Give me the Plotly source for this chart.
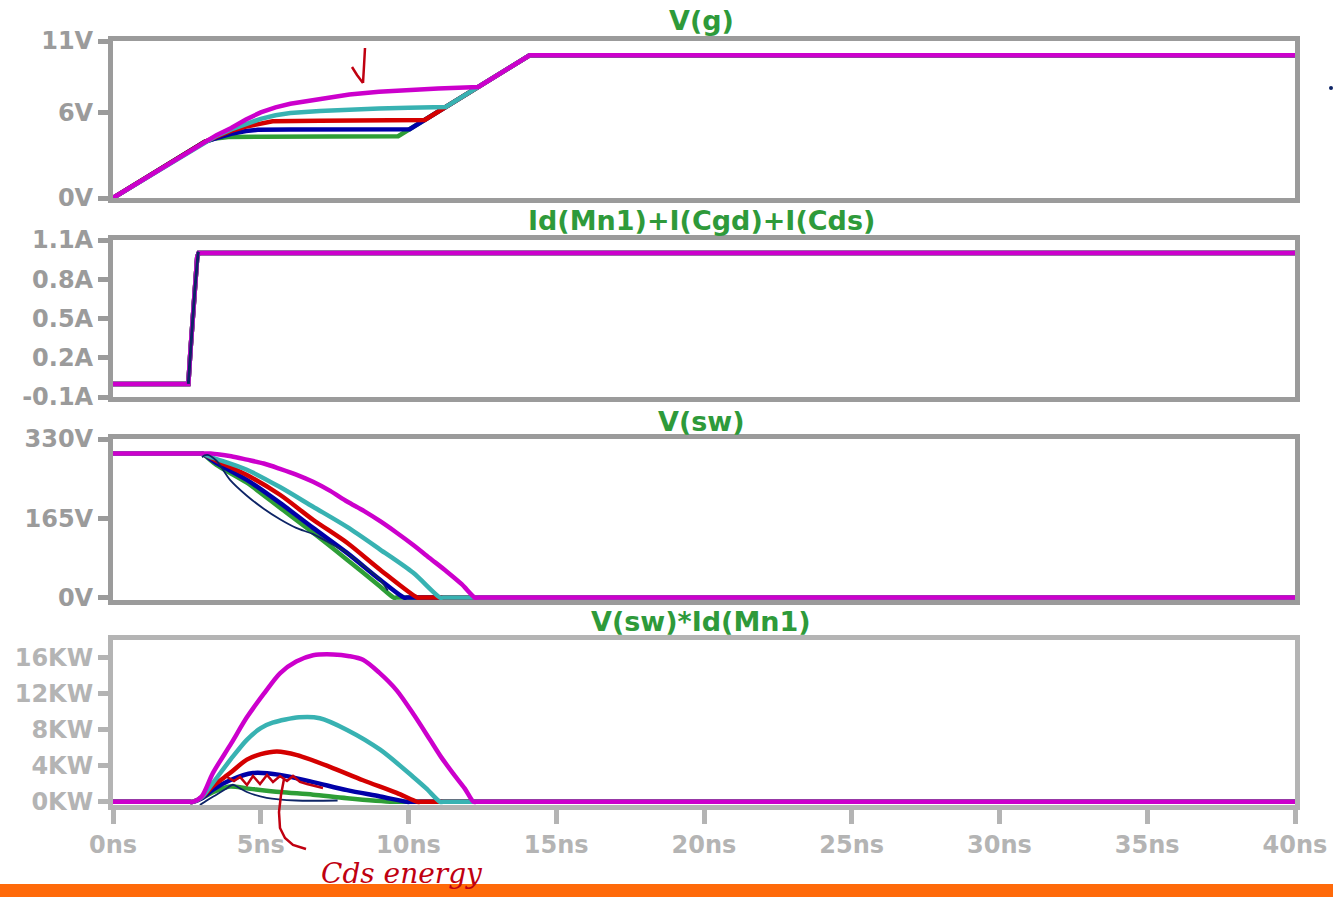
import plotly.graph_objects as go

W, H = 1333, 897

# ---------------- data ----------------
SERIES = ["green", "blue", "red", "teal", "magenta"]
COLORS = {"green": "#2e9e36", "blue": "#0000a8", "red": "#d40000",
          "teal": "#38b2b2", "magenta": "#cc00cc"}
PEN = "#0d2466"

# Panel 1: V(g)  (t in ns, volts)
VG_T = {
    "green":   [0, 3.1, 3.4, 3.9, 5.0, 7.0, 9.65, 14.1, 40],
    "blue":    [0, 3.1, 3.5, 4.0, 4.5, 4.9, 6.0, 8.0, 10.04, 14.1, 40],
    "red":     [0, 3.1, 3.5, 4.0, 4.5, 5.0, 5.4, 7.0, 9.0, 10.55, 14.1, 40],
    "teal":    [0, 3.1, 3.5, 4.0, 4.5, 5.0, 5.5, 6.0, 7.0, 8.0, 9.0, 10.0, 11.26, 14.1, 40],
    "magenta": [0, 3.1, 3.5, 4.0, 4.5, 5.0, 5.5, 6.0, 7.0, 8.0, 9.0, 10.0, 11.0, 12.36, 14.1, 40],
}
VG_V = {
    "green":   [0, 3.93, 4.15, 4.27, 4.30, 4.31, 4.33, 10, 10],
    "blue":    [0, 3.93, 4.2, 4.5, 4.7, 4.78, 4.8, 4.81, 4.82, 10, 10],
    "red":     [0, 3.93, 4.3, 4.7, 5.0, 5.25, 5.38, 5.42, 5.45, 5.47, 10, 10],
    "teal":    [0, 3.93, 4.35, 4.8, 5.2, 5.55, 5.8, 5.95, 6.1, 6.2, 6.27, 6.32, 6.38, 10, 10],
    "magenta": [0, 3.93, 4.4, 4.9, 5.5, 6.0, 6.35, 6.6, 6.95, 7.25, 7.45, 7.58, 7.68, 7.78, 10, 10],
}

# Panel 2: Id(Mn1)+I(Cgd)+I(Cds) (amps)
ID_T = [0, 2.55, 2.62, 2.70, 2.78, 2.85, 2.90, 40]
ID_A = [0, 0, 0.25, 0.55, 0.80, 0.97, 1.0, 1.0]
PEN_ID_T = [2.55, 2.62, 2.70, 2.78, 2.84, 2.88, 2.91]
PEN_ID_A = [0.0, 0.2, 0.5, 0.75, 0.92, 1.0, 1.01]

# Panel 3: V(sw) (volts)
VSW_T = {
    "green":   [0, 2.9, 3.0, 3.5, 4.53, 5.65, 6.77, 7.92, 9.04, 9.5, 9.6, 40],
    "blue":    [0, 2.9, 3.0, 3.5, 4.53, 5.65, 6.77, 7.92, 9.04, 9.85, 9.95, 40],
    "red":     [0, 2.9, 3.0, 3.5, 4.53, 5.65, 6.77, 7.92, 9.04, 10.3, 10.4, 40],
    "teal":    [0, 2.9, 3.0, 3.38, 4.53, 5.65, 6.77, 7.92, 9.04, 10.15, 11.07, 11.17, 40],
    "magenta": [0, 3.2, 3.3, 4.0, 4.53, 5.1, 5.65, 6.2, 6.77, 7.35, 7.92, 8.5, 9.04, 9.6, 10.15, 10.7, 11.3, 11.8, 12.25, 12.35, 40],
}
VSW_V = {
    "green":   [300, 300, 300, 276, 239, 187, 135, 79, 23, 0, 0, 0],
    "blue":    [300, 300, 300, 280, 245, 197, 145, 93, 37, 0, 0, 0],
    "red":     [300, 300, 300, 285, 255, 214, 162, 114, 58, 0, 0, 0],
    "teal":    [300, 300, 300, 291, 266, 230, 189, 147, 100, 52, 0, 0, 0],
    "magenta": [300, 300, 300, 294, 287, 279, 268, 256, 241, 222, 200, 180, 159, 135, 110, 83, 54, 28, 0, 0, 0],
}
PEN_VSW_T = [3.01, 3.1, 3.2, 3.5, 3.96, 4.53, 5.1, 5.65, 6.2, 6.77, 7.35, 7.92, 8.5, 9.04, 9.3]
PEN_VSW_V = [292, 296, 297, 285, 245, 212, 185, 163, 145, 132, 113, 93, 65, 37, 15]

# Panel 4: V(sw)*Id(Mn1) (kW)
P_T = {
    "green":   [0, 2.6, 2.7, 3.0, 3.4, 3.96, 4.53, 5.65, 6.77, 7.92, 9.5, 9.6, 40],
    "blue":    [0, 2.6, 2.7, 3.0, 3.4, 3.96, 4.74, 5.65, 6.77, 7.92, 9.04, 9.95, 10.05, 40],
    "red":     [0, 2.6, 2.7, 3.0, 3.4, 3.96, 4.53, 5.0, 5.55, 6.23, 7.34, 8.46, 9.6, 10.3, 10.4, 40],
    "teal":    [0, 2.6, 2.7, 3.0, 3.38, 4.0, 4.53, 5.0, 5.4, 6.3, 7.0, 7.92, 9.04, 10.15, 10.6, 11.07, 11.17, 40],
    "magenta": [0, 2.6, 2.7, 3.0, 3.38, 4.0, 4.53, 5.1, 5.65, 6.2, 6.77, 7.45, 8.0, 8.46, 9.0, 9.6, 10.2, 10.73, 11.1, 11.5, 11.9, 12.2, 12.3, 40],
}
P_KW = {
    "green":   [0, 0, 0, 0.4, 1.1, 1.7, 1.5, 1.1, 0.8, 0.4, 0, 0, 0],
    "blue":    [0, 0, 0, 0.4, 1.4, 2.4, 3.2, 3.0, 2.2, 1.3, 0.6, 0, 0, 0],
    "red":     [0, 0, 0, 0.5, 1.8, 3.2, 4.7, 5.3, 5.6, 5.2, 3.9, 2.4, 1.0, 0, 0, 0],
    "teal":    [0, 0, 0, 0.5, 2.1, 4.8, 6.9, 8.2, 8.8, 9.4, 9.3, 8.0, 5.8, 2.8, 1.5, 0, 0, 0],
    "magenta": [0, 0, 0, 0.6, 3.2, 6.5, 9.4, 12.0, 14.3, 15.6, 16.3, 16.4, 16.2, 15.8, 14.4, 12.4, 9.6, 6.9, 5.0, 3.2, 1.5, 0, 0, 0],
}
PEN_P_T = [2.94, 3.2, 3.5, 3.8, 4.06, 4.3, 4.53, 5.2, 6.2, 7.6]
PEN_P_KW = [-0.35, 0.2, 0.8, 1.4, 1.9, 1.5, 1.1, 0.45, 0.15, 0.15]

TITLES = ["V(g)", "Id(Mn1)+I(Cgd)+I(Cds)", "V(sw)", "V(sw)*Id(Mn1)"]
X_TICKS = [0, 5, 10, 15, 20, 25, 30, 35, 40]
X_TICKTEXT = ["0ns", "5ns", "10ns", "15ns", "20ns", "25ns", "30ns", "35ns", "40ns"]
Y_TICKS = [[0, 6, 11], [-0.1, 0.2, 0.5, 0.8, 1.1], [0, 165, 330], [0, 4, 8, 12, 16]]
Y_TICKTEXT = [["0V", "6V", "11V"], ["-0.1A", "0.2A", "0.5A", "0.8A", "1.1A"],
              ["0V", "165V", "330V"], ["0KW", "4KW", "8KW", "12KW", "16KW"]]

# ---------------- layout geometry (pixels) ----------------
X_LEFT, X_RIGHT = 113, 1295
PANELS = [  # (top px, bottom px, y range)
    (41, 198, [0, 11]),
    (240, 397, [-0.1, 1.1]),
    (439, 600, [-5, 330]),
    (640, 805, [-0.35, 18.0]),
]
TITLE_Y = [20, 221, 421, 621]


def px(x):
    return x / W


def py(y):
    return 1 - y / H


fig = go.Figure()


def add(k, t, v, color, width, shape="linear"):
    sfx = "" if k == 1 else str(k)
    line = dict(color=color, width=width, shape=shape)
    if shape == "spline":
        line["smoothing"] = 0.8
    fig.add_trace(go.Scatter(x=t, y=v, mode="lines", xaxis="x" + sfx, yaxis="y" + sfx,
                             line=line, showlegend=False, hoverinfo="skip"))


for s in SERIES:
    add(1, VG_T[s], VG_V[s], COLORS[s], 4.5)
for s in SERIES:
    add(2, ID_T, ID_A, COLORS[s], 4.5)
add(2, PEN_ID_T, PEN_ID_A, PEN, 3)
for s in SERIES:
    add(3, VSW_T[s], VSW_V[s], COLORS[s], 4.5, "spline")
add(3, PEN_VSW_T, PEN_VSW_V, PEN, 1.8, "spline")
for s in SERIES:
    add(4, P_T[s], P_KW[s], COLORS[s], 4.5, "spline")
add(4, PEN_P_T, PEN_P_KW, PEN, 1.8, "spline")

layout = dict(width=W, height=H, autosize=False,
              margin=dict(l=0, r=0, t=0, b=0, pad=0, autoexpand=False),
              paper_bgcolor="white", plot_bgcolor="white", showlegend=False)

TICKFONT = "DejaVu Sans"
for k in range(1, 5):
    top, bot, yr = PANELS[k - 1]
    sfx = "" if k == 1 else str(k)
    frame = "#9b9b9b" if k < 4 else "#b4b4b4"
    last = k == 4
    layout["xaxis" + sfx] = dict(
        domain=[px(X_LEFT), px(X_RIGHT)], range=[0, 40], anchor="y" + sfx,
        showgrid=False, zeroline=False, showline=True, linecolor=frame, linewidth=5,
        mirror=True, layer="below traces", automargin=False,
        ticks="outside" if last else "", ticklen=14, tickwidth=5, tickcolor=frame,
        tickvals=X_TICKS, ticktext=X_TICKTEXT, showticklabels=last,
        tickfont=dict(family=TICKFONT, size=24, color=frame, weight="bold"),
        fixedrange=True)
    layout["yaxis" + sfx] = dict(
        domain=[py(bot), py(top)], range=yr, anchor="x" + sfx,
        showgrid=False, zeroline=False, showline=True, linecolor=frame, linewidth=5,
        mirror=True, layer="below traces", automargin=False,
        ticks="outside", ticklen=10, tickwidth=5, tickcolor=frame,
        tickvals=Y_TICKS[k - 1], ticktext=Y_TICKTEXT[k - 1],
        tickfont=dict(family=TICKFONT, size=24, color=frame, weight="bold"),
        fixedrange=True)

annotations = []
for k in range(4):
    annotations.append(dict(text=TITLES[k], x=px(701), y=py(TITLE_Y[k]), xref="paper", yref="paper",
                            xanchor="center", yanchor="middle", showarrow=False,
                            font=dict(family="DejaVu Sans", size=27, color="#2e9a3a", weight="bold")))
annotations.append(dict(text="Cds energy", x=px(402), y=py(873), xref="paper", yref="paper",
                        xanchor="center", yanchor="middle", showarrow=False,
                        font=dict(family="DejaVu Serif", size=28, color="#c00010", style="italic")))
layout["annotations"] = annotations


def path(points):
    return "M " + " L ".join(f"{px(x):.5f},{py(y):.5f}" for x, y in points)


red_pen = dict(color="#c00010", width=2.5)
shapes = [
    # orange footer bar
    dict(type="rect", xref="paper", yref="paper", x0=0, x1=1, y0=0, y1=py(884),
         fillcolor="#ff6a0a", line=dict(width=0), layer="below"),
    # hand-drawn arrow in V(g)
    dict(type="path", xref="paper", yref="paper", path=path([(365, 48), (364, 66), (363, 83)]), line=red_pen),
    dict(type="path", xref="paper", yref="paper", path=path([(352, 67), (357, 75), (363, 83)]), line=red_pen),
    # squiggle + leader for "Cds energy"
    dict(type="path", xref="paper", yref="paper",
         path=path([(227, 777), (234, 781), (240, 777), (247, 785), (253, 776), (260, 784),
                    (267, 775), (273, 782), (280, 776), (287, 781), (293, 776), (300, 782),
                    (307, 784), (315, 786), (323, 788)]), line=red_pen),
    dict(type="path", xref="paper", yref="paper",
         path=path([(284, 779), (281, 795), (279, 812), (280, 828), (285, 838), (293, 845), (306, 849)]),
         line=red_pen),
    # small pen dot at right
    dict(type="circle", xref="paper", yref="paper", x0=px(1329), x1=px(1333), y0=py(90), y1=py(86),
         fillcolor=PEN, line=dict(width=0)),
]
layout["shapes"] = shapes

fig.update_layout(**layout)
fig.write_html("out.html")
